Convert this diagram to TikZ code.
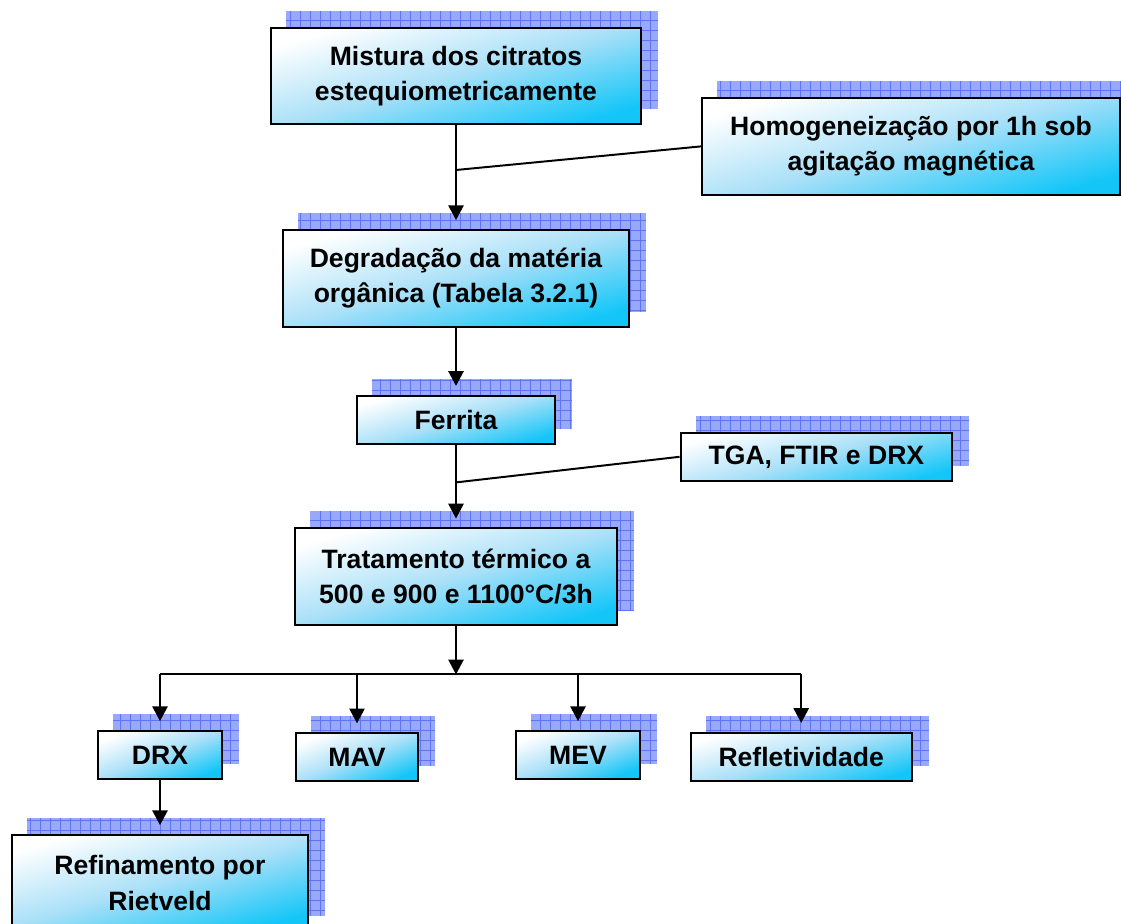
\documentclass[tikz,border=0pt]{standalone}
\usepackage{fontspec}
\setmainfont{Liberation Sans}
\usetikzlibrary{arrows.meta,backgrounds}
\definecolor{boxmid}{RGB}{170,224,248}
\definecolor{boxbot}{RGB}{20,198,248}
\definecolor{shadowfill}{RGB}{152,168,250}
\definecolor{shadowgrid}{RGB}{95,115,245}
\tikzset{
  box/.style={draw=black, line width=1.5pt, top color=white, bottom color=boxbot,
    middle color=boxmid, shading angle=16, align=center, inner sep=0pt,
    font=\bfseries\fontsize{18.9}{24.9}\selectfont},
  shadowbox/.style={fill=shadowfill},
  shadowline/.style={draw=shadowgrid, line width=0.5pt},
}
\begin{document}
\begin{tikzpicture}[>={Triangle[width=.38cm,length=.37cm]}, line width=1.4pt]
        \useasboundingbox (0,0) rectangle (28.025,-23.1);
        % main column
        \node[box, minimum width=9.25cm, minimum height=2.4cm] (mix) at (11.4,-1.9) {Mistura dos citratos\\estequiometricamente};
        \node[box, minimum width=10.45cm, minimum height=2.42cm] (hom) at (22.775,-3.66) {Homogeneização por 1h sob\\agitação magnética};
        \node[box, minimum width=8.66cm, minimum height=2.42cm] (deg) at (11.4,-6.96) {Degradação da matéria\\orgânica (Tabela 3.2.1)};
        \node[box, minimum width=4.94cm, minimum height=1.21cm] (fer) at (11.4,-10.5) {Ferrita};
        \node[box, minimum width=6.79cm, minimum height=1.2cm] (tga) at (20.41,-11.42) {TGA, FTIR e DRX};
        \node[box, minimum width=8.03cm, minimum height=2.42cm] (tra) at (11.4,-14.42) {Tratamento térmico a\\500 e 900 e 1100°C/3h};
        % analyses
        \node[box, minimum width=3.1cm, minimum height=1.2cm, shading angle=22] (drx) at (4,-18.875) {DRX};
        \node[box, minimum width=3.05cm, minimum height=1.2cm, shading angle=22] (mav) at (8.925,-18.93) {MAV};
        \node[box, minimum width=3.09cm, minimum height=1.2cm, shading angle=22] (mev) at (14.45,-18.875) {MEV};
        \node[box, minimum width=5.53cm, minimum height=1.2cm] (ref) at (20.03,-18.92) {Refletividade};
        \node[box, minimum width=7.42cm, minimum height=2.4cm] (rie) at (4,-22.075) {Refinamento por\\Rietveld};
        % shadows
        \begin{scope}[on background layer]
        \foreach \n in {mix,hom,deg,fer,tga,tra,drx,mav,mev,ref,rie}{
            \fill[shadowbox] ([shift={(.4,.4)}]\n.south west) rectangle ([shift={(.4,.4)}]\n.north east);
            \draw[shadowline, step=.25] ([shift={(.4,.4)}]\n.south west) grid ([shift={(.4,.4)}]\n.north east);
        }
        \end{scope}
        % connectors
        \coordinate (j1) at (11.4,-4.25);
        \coordinate (j2) at (11.4,-12.06);
        \coordinate (split) at (11.4,-16.86);
        \draw [->, shorten >=.22cm] (mix) -- (deg);
        \draw (hom.west) -- (j1);
        \draw [->, shorten >=.22cm] (deg) -- (fer);
        \draw [->, shorten >=.22cm] (fer) -- (tra);
        \draw (tga.west) -- (j2);
        \draw [->] (tra.south) -- (split);
        \draw (split -| drx.north) -- (split -| ref.north);
        \foreach \n in {drx,mav,mev,ref}
            \draw [->, shorten >=.22cm] (split -| \n.north) -- (\n.north);
        \draw [->, shorten >=.22cm] (drx) -- (rie);
\end{tikzpicture}
\end{document}
